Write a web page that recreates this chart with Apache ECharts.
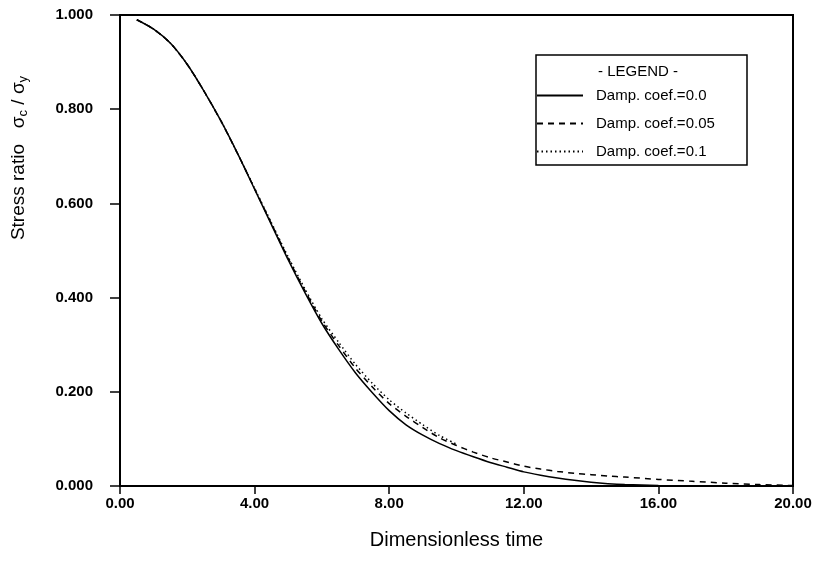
<!DOCTYPE html>
<html>
<head>
<meta charset="utf-8">
<script src="https://cdn.jsdelivr.net/npm/echarts@6/dist/echarts.min.js"></script>
<style>
  html, body { margin: 0; padding: 0; background: #fff; }
  #chart { width: 819px; height: 563px; }
</style>
</head>
<body>
<div id="chart"></div>
<script>
// dimensionless time samples
const time = [0.5, 1.0, 1.5, 2.0, 2.5, 3.0, 3.5, 4.0, 4.5, 5.0, 5.5, 6.0, 6.5, 7.0, 7.5, 8.0, 8.5, 9.0, 9.5, 10.0,
  10.5, 11.0, 11.5, 12.0, 12.5, 13.0, 13.5, 14.0, 14.5, 15.0, 16.0, 17.0, 18.0, 19.0, 20.0]

// stress ratio for each damping coefficient (dotted curve only readable up to t = 10)
const damp0 = [0.990, 0.970, 0.940, 0.895, 0.838, 0.775, 0.705, 0.630, 0.555, 0.480, 0.410, 0.345, 0.290, 0.240, 0.198, 0.160, 0.130, 0.108, 0.090, 0.075,
  0.062, 0.050, 0.040, 0.030, 0.023, 0.017, 0.012, 0.008, 0.005, 0.003, 0.001, 0.0005, 0, 0, 0]
const damp005 = [0.990, 0.970, 0.940, 0.895, 0.838, 0.775, 0.705, 0.631, 0.557, 0.483, 0.414, 0.350, 0.298, 0.250, 0.210, 0.175, 0.148, 0.124, 0.102, 0.086,
  0.072, 0.060, 0.051, 0.042, 0.036, 0.031, 0.027, 0.024, 0.021, 0.019, 0.014, 0.010, 0.006, 0.003, 0.001]
const damp01 = [0.990, 0.970, 0.940, 0.895, 0.838, 0.775, 0.705, 0.632, 0.559, 0.486, 0.418, 0.355, 0.305, 0.258, 0.218, 0.183, 0.155, 0.130, 0.107, 0.089,
  null, null, null, null, null, null, null, null, null, null, null, null, null, null, null]

const seriesNames = ['Damp. coef.=0.0', 'Damp. coef.=0.05', 'Damp. coef.=0.1']

const chart = echarts.init(document.getElementById('chart'))
const font = '"Liberation Sans", Arial, sans-serif'

function makeSeries(name, values, dash, z) {
  return {
    name, type: 'line',
    data: time.map((t, i) => values[i] == null ? [t, null] : [t, values[i]]),
    symbol: 'none', smooth: 0.25,
    lineStyle: { color: '#000', width: 1.5, type: dash },
    itemStyle: { color: '#000' },
    z
  }
}

chart.setOption({
  animation: false,
  grid: { left: 120, right: 26, top: 15, bottom: 77, show: true, borderColor: '#000', borderWidth: 2 },
  xAxis: {
    type: 'value', min: 0, max: 20, interval: 4,
    name: 'Dimensionless time', nameLocation: 'middle', nameGap: 44,
    nameTextStyle: { fontFamily: font, fontSize: 20, color: '#000' },
    axisLine: { lineStyle: { color: '#000', width: 2 } },
    axisTick: { inside: false, length: 8, lineStyle: { color: '#000', width: 1.5 } },
    axisLabel: { formatter: v => v.toFixed(2), fontFamily: font, fontSize: 15, fontWeight: 'bold', color: '#000', margin: 10 },
    splitLine: { show: false }
  },
  yAxis: {
    type: 'value', min: 0, max: 1, interval: 0.2,
    axisLine: { show: true, lineStyle: { color: '#000', width: 2 } },
    axisTick: { show: true, length: 10, lineStyle: { color: '#000', width: 1.5 } },
    axisLabel: { formatter: v => v.toFixed(3), fontFamily: font, fontSize: 15, fontWeight: 'bold', color: '#000', margin: 27 },
    splitLine: { show: false }
  },
  legend: {
    orient: 'vertical', left: 531, top: 83, itemWidth: 46, itemHeight: 14, itemGap: 13,
    data: seriesNames,
    itemStyle: { opacity: 0 },
    textStyle: { fontFamily: font, fontSize: 15, color: '#000', padding: [0, 0, 0, 8] }
  },
  graphic: [
    { type: 'rect', shape: { x: 536, y: 55, width: 211, height: 110 }, style: { fill: 'none', stroke: '#000', lineWidth: 1.5 }, z: 10 },
    { type: 'text', x: 638, y: 72, style: { text: '- LEGEND -', fontFamily: font, fontSize: 15, fill: '#000', align: 'center', verticalAlign: 'middle' }, z: 10 },
    {
      type: 'text', x: 19, y: 158, rotation: Math.PI / 2,
      style: {
        text: '{a|Stress ratio   σ}{s|c}{a| / σ}{s|y}',
        align: 'center', verticalAlign: 'middle', fill: '#000',
        rich: {
          a: { fontFamily: font, fontSize: 19, fill: '#000' },
          s: { fontFamily: font, fontSize: 13, fill: '#000', verticalAlign: 'bottom', padding: [8, 0, 0, 0] }
        }
      }
    }
  ],
  series: [
    makeSeries(seriesNames[0], damp0, 'solid', 3),
    makeSeries(seriesNames[1], damp005, [6, 5], 2),
    makeSeries(seriesNames[2], damp01, [1.5, 3], 2)
  ]
})
</script>
</body>
</html>
